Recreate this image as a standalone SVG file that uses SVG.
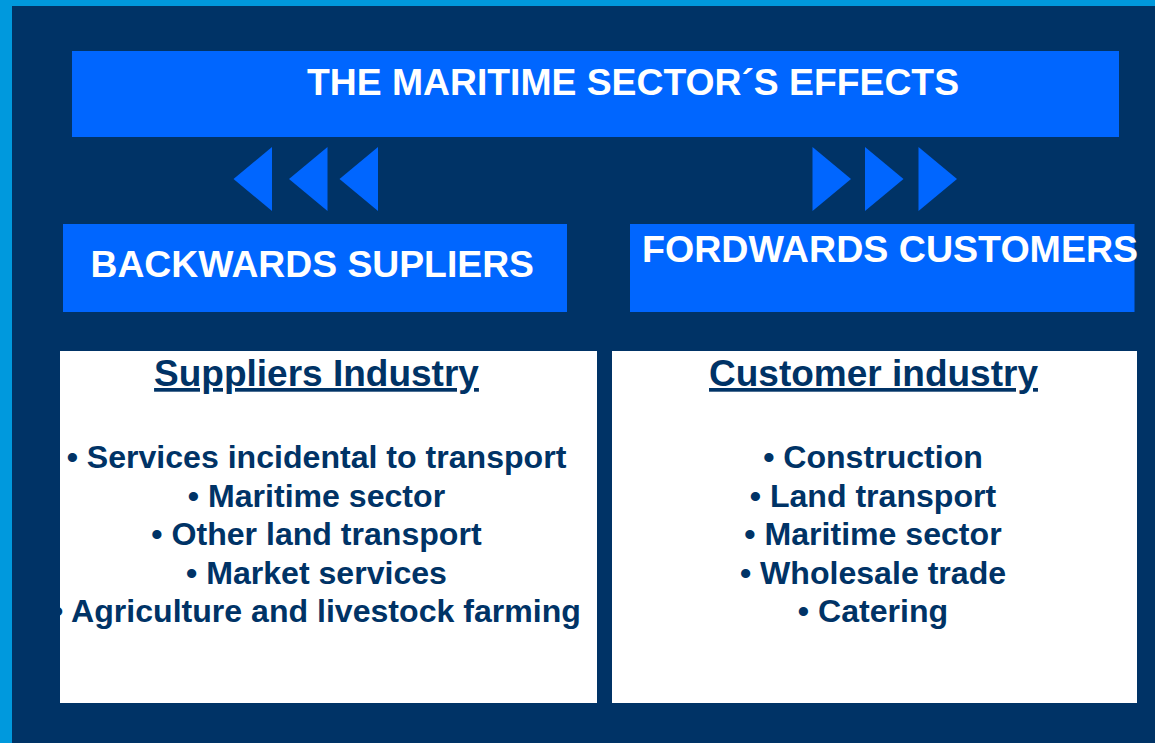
<svg xmlns="http://www.w3.org/2000/svg" width="1155" height="743" viewBox="0 0 1155 743">
<style>
.bar{fill:#0066ff}
.hdr{font-family:"Liberation Sans",Arial,sans-serif;font-weight:bold;font-size:37.3px;fill:#ffffff}
.card{fill:#ffffff}
.ttl{font-family:"Liberation Sans",Arial,sans-serif;font-weight:bold;font-size:37px;fill:#003366;text-anchor:middle;text-decoration:underline}
.item{font-family:"Liberation Sans",Arial,sans-serif;font-weight:bold;font-size:32.1px;fill:#003366;text-anchor:middle}
.tri{fill:#0066ff}
</style>
<rect x="0" y="0" width="1155" height="743" fill="#0099dd"/>
<rect x="12" y="6" width="1143" height="737" fill="#003366"/>
<g id="title">
<rect class="bar" x="72" y="51" width="1047" height="86"/>
<text class="hdr" x="307" y="95">THE MARITIME SECTOR´S EFFECTS</text>
</g>
<g id="connectors">
<polygon class="tri" points="233.5,179 272,147 272,211"/>
<polygon class="tri" points="289,179 327.5,147 327.5,211"/>
<polygon class="tri" points="339.5,179 378,147 378,211"/>
<polygon class="tri" points="851,179 812.5,147 812.5,211"/>
<polygon class="tri" points="903.5,179 865,147 865,211"/>
<polygon class="tri" points="957,179 918.5,147 918.5,211"/>
</g>
<g id="backwards">
<rect class="bar" x="63" y="224" width="504" height="88"/>
<text class="hdr" x="90.5" y="277">BACKWARDS SUPLIERS</text>
</g>
<g id="forwards">
<rect class="bar" x="630" y="224" width="504.5" height="88"/>
<text class="hdr" x="642" y="262" style="font-size:37.6px">FORDWARDS CUSTOMERS</text>
</g>
<g id="suppliers">
<rect class="card" x="60" y="351" width="537" height="352"/>
<text class="ttl" x="316.5" y="386">Suppliers Industry</text>
<text class="item" x="316.5" y="468">• Services incidental to transport</text>
<text class="item" x="316.5" y="506.5">• Maritime sector</text>
<text class="item" x="316.5" y="545">• Other land transport</text>
<text class="item" x="316.5" y="583.5">• Market services</text>
<text class="item" x="316.5" y="622">• Agriculture and livestock farming</text>
</g>
<g id="customers">
<rect class="card" x="612" y="351" width="525" height="352"/>
<text class="ttl" x="873.5" y="386">Customer industry</text>
<text class="item" x="873" y="468">• Construction</text>
<text class="item" x="873" y="506.5">• Land transport</text>
<text class="item" x="873" y="545">• Maritime sector</text>
<text class="item" x="873" y="583.5">• Wholesale trade</text>
<text class="item" x="873" y="622">• Catering</text>
</g>
</svg>
